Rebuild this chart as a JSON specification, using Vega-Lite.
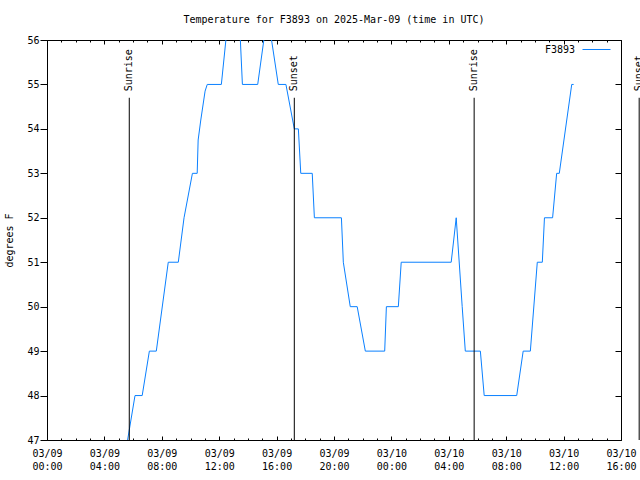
{
  "$schema": "https://vega.github.io/schema/vega-lite/v6.json",
  "width": 574,
  "height": 400,
  "autosize": {"type": "none"},
  "padding": {"left": 47, "top": 40, "right": 19, "bottom": 40},
  "background": "white",
  "title": {"text": "Temperature for F3893 on 2025-Mar-09 (time in UTC)", "font": "DejaVu Sans Mono", "fontSize": 10, "fontWeight": "normal", "color": "black", "anchor": "middle", "offset": 10},
  "config": {
    "view": {"stroke": "black", "strokeWidth": 1},
    "axis": {"domain": false, "grid": false, "tickColor": "black", "tickWidth": 1, "labelColor": "black", "labelFont": "DejaVu Sans Mono", "labelFontSize": 10, "titleFont": "DejaVu Sans Mono", "titleFontSize": 10, "titleFontWeight": "normal", "titleColor": "black"}
  },
  "datasets": {
    "temps": [
      {"time": "2025-03-09T05:37:00Z", "temp": 47.0, "series": "F3893"},
      {"time": "2025-03-09T06:08:00Z", "temp": 48, "series": "F3893"},
      {"time": "2025-03-09T06:38:00Z", "temp": 48, "series": "F3893"},
      {"time": "2025-03-09T07:08:00Z", "temp": 49, "series": "F3893"},
      {"time": "2025-03-09T07:37:00Z", "temp": 49, "series": "F3893"},
      {"time": "2025-03-09T08:27:00Z", "temp": 51, "series": "F3893"},
      {"time": "2025-03-09T09:09:00Z", "temp": 51, "series": "F3893"},
      {"time": "2025-03-09T09:33:00Z", "temp": 52, "series": "F3893"},
      {"time": "2025-03-09T10:08:00Z", "temp": 53, "series": "F3893"},
      {"time": "2025-03-09T10:28:00Z", "temp": 53, "series": "F3893"},
      {"time": "2025-03-09T10:32:00Z", "temp": 53.75, "series": "F3893"},
      {"time": "2025-03-09T10:43:00Z", "temp": 54.2, "series": "F3893"},
      {"time": "2025-03-09T11:01:00Z", "temp": 54.85, "series": "F3893"},
      {"time": "2025-03-09T11:10:00Z", "temp": 55, "series": "F3893"},
      {"time": "2025-03-09T12:09:00Z", "temp": 55, "series": "F3893"},
      {"time": "2025-03-09T12:28:00Z", "temp": 56, "series": "F3893"},
      {"time": "2025-03-09T12:49:00Z", "temp": 57, "series": "F3893"},
      {"time": "2025-03-09T13:20:00Z", "temp": 57, "series": "F3893"},
      {"time": "2025-03-09T13:37:00Z", "temp": 55, "series": "F3893"},
      {"time": "2025-03-09T14:41:00Z", "temp": 55, "series": "F3893"},
      {"time": "2025-03-09T15:22:00Z", "temp": 56.6, "series": "F3893"},
      {"time": "2025-03-09T16:07:00Z", "temp": 55, "series": "F3893"},
      {"time": "2025-03-09T16:39:00Z", "temp": 55, "series": "F3893"},
      {"time": "2025-03-09T17:14:00Z", "temp": 54, "series": "F3893"},
      {"time": "2025-03-09T17:31:00Z", "temp": 54, "series": "F3893"},
      {"time": "2025-03-09T17:41:00Z", "temp": 53, "series": "F3893"},
      {"time": "2025-03-09T18:29:00Z", "temp": 53, "series": "F3893"},
      {"time": "2025-03-09T18:38:00Z", "temp": 52, "series": "F3893"},
      {"time": "2025-03-09T20:31:00Z", "temp": 52, "series": "F3893"},
      {"time": "2025-03-09T20:39:00Z", "temp": 51, "series": "F3893"},
      {"time": "2025-03-09T21:08:00Z", "temp": 50, "series": "F3893"},
      {"time": "2025-03-09T21:37:00Z", "temp": 50, "series": "F3893"},
      {"time": "2025-03-09T22:11:00Z", "temp": 49, "series": "F3893"},
      {"time": "2025-03-09T23:32:00Z", "temp": 49, "series": "F3893"},
      {"time": "2025-03-09T23:39:00Z", "temp": 50, "series": "F3893"},
      {"time": "2025-03-10T00:29:00Z", "temp": 50, "series": "F3893"},
      {"time": "2025-03-10T00:41:00Z", "temp": 51, "series": "F3893"},
      {"time": "2025-03-10T04:10:00Z", "temp": 51, "series": "F3893"},
      {"time": "2025-03-10T04:31:00Z", "temp": 52, "series": "F3893"},
      {"time": "2025-03-10T04:56:00Z", "temp": 50, "series": "F3893"},
      {"time": "2025-03-10T05:09:00Z", "temp": 49, "series": "F3893"},
      {"time": "2025-03-10T06:12:00Z", "temp": 49, "series": "F3893"},
      {"time": "2025-03-10T06:28:00Z", "temp": 48, "series": "F3893"},
      {"time": "2025-03-10T08:44:00Z", "temp": 48, "series": "F3893"},
      {"time": "2025-03-10T09:11:00Z", "temp": 49, "series": "F3893"},
      {"time": "2025-03-10T09:41:00Z", "temp": 49, "series": "F3893"},
      {"time": "2025-03-10T10:10:00Z", "temp": 51, "series": "F3893"},
      {"time": "2025-03-10T10:31:00Z", "temp": 51, "series": "F3893"},
      {"time": "2025-03-10T10:40:00Z", "temp": 52, "series": "F3893"},
      {"time": "2025-03-10T11:14:00Z", "temp": 52, "series": "F3893"},
      {"time": "2025-03-10T11:31:00Z", "temp": 53, "series": "F3893"},
      {"time": "2025-03-10T11:42:00Z", "temp": 53, "series": "F3893"},
      {"time": "2025-03-10T12:34:00Z", "temp": 55, "series": "F3893"},
      {"time": "2025-03-10T12:42:00Z", "temp": 55, "series": "F3893"}
    ],
    "events": [
      {"time": "2025-03-09T05:44:00Z", "label": "Sunrise"},
      {"time": "2025-03-09T17:14:00Z", "label": "Sunset"},
      {"time": "2025-03-10T05:46:00Z", "label": "Sunrise"},
      {"time": "2025-03-10T17:16:00Z", "label": "Sunset"}
    ]
  },
  "layer": [
    {
      "data": {"name": "temps"},
      "mark": {"type": "line", "clip": true, "strokeWidth": 1},
      "encoding": {
        "x": {"field": "time", "type": "temporal",
          "scale": {"type": "utc", "domain": [1741478400000, 1741622400000]},
          "axis": {"orient": "bottom", "values": [1741478400000, 1741492800000, 1741507200000, 1741521600000, 1741536000000, 1741550400000, 1741564800000, 1741579200000, 1741593600000, 1741608000000, 1741622400000], "tickSize": -4, "labelPadding": 12, "labelBaseline": "top", "labelLineHeight": 13, "labelOverlap": false, "labelFlush": false, "labelExpr": "[utcFormat(datum.value, '%m/%d'), utcFormat(datum.value, '%H:%M')]", "title": null}},
        "y": {"field": "temp", "type": "quantitative",
          "scale": {"domain": [47, 56], "nice": false, "zero": false},
          "axis": {"orient": "left", "values": [47, 48, 49, 50, 51, 52, 53, 54, 55, 56], "tickSize": 7, "labelPadding": 1, "title": "degrees F", "titlePadding": 12}},
        "color": {"field": "series", "type": "nominal", "scale": {"range": ["#0a80ff"]},
          "legend": {"title": null, "orient": "none", "legendX": 535, "legendY": -5, "symbolType": "stroke", "symbolSize": 784, "symbolStrokeWidth": 1, "labelAlign": "right", "labelOffset": -36, "labelFont": "DejaVu Sans Mono", "labelFontSize": 10, "labelColor": "black", "padding": 0}}
      }
    },
    {
      "data": {"name": "events"},
      "mark": {"type": "rule", "color": "black", "strokeWidth": 1},
      "encoding": {
        "x": {"field": "time", "type": "temporal",
          "scale": {"type": "utc", "domain": [1741478400000, 1741622400000]},
          "axis": {"orient": "bottom", "values": [1741478400000, 1741482000000, 1741485600000, 1741489200000, 1741492800000, 1741496400000, 1741500000000, 1741503600000, 1741507200000, 1741510800000, 1741514400000, 1741518000000, 1741521600000, 1741525200000, 1741528800000, 1741532400000, 1741536000000, 1741539600000, 1741543200000, 1741546800000, 1741550400000, 1741554000000, 1741557600000, 1741561200000, 1741564800000, 1741568400000, 1741572000000, 1741575600000, 1741579200000, 1741582800000, 1741586400000, 1741590000000, 1741593600000, 1741597200000, 1741600800000, 1741604400000, 1741608000000, 1741611600000, 1741615200000, 1741618800000, 1741622400000], "tickSize": -2, "labels": false, "title": null}},
        "y": {"datum": 54.7, "type": "quantitative",
          "scale": {"domain": [47, 56], "nice": false, "zero": false},
          "axis": {"orient": "right", "values": [47, 48, 49, 50, 51, 52, 53, 54, 55, 56], "tickSize": -6, "labels": false, "title": null}},
        "y2": {"datum": 47}
      }
    },
    {
      "data": {"name": "events"},
      "transform": [{"filter": "datum.label == 'Sunrise'"}],
      "mark": {"type": "text", "angle": 270, "align": "left", "baseline": "middle", "font": "DejaVu Sans Mono", "fontSize": 10, "color": "black", "dx": 2},
      "encoding": {
        "x": {"field": "time", "type": "temporal",
          "scale": {"type": "utc", "domain": [1741478400000, 1741622400000]},
          "axis": {"orient": "top", "values": [1741478400000, 1741492800000, 1741507200000, 1741521600000, 1741536000000, 1741550400000, 1741564800000, 1741579200000, 1741593600000, 1741608000000, 1741622400000], "tickSize": -4, "labels": false, "title": null}},
        "y": {"datum": 54.8, "type": "quantitative", "scale": {"domain": [47, 56], "nice": false, "zero": false}, "axis": null},
        "text": {"field": "label"}
      }
    },
    {
      "data": {"name": "events"},
      "transform": [{"filter": "datum.label == 'Sunset'"}],
      "mark": {"type": "text", "angle": 270, "align": "left", "baseline": "middle", "font": "DejaVu Sans Mono", "fontSize": 10, "color": "black", "dx": 2},
      "encoding": {
        "x": {"field": "time", "type": "temporal",
          "scale": {"type": "utc", "domain": [1741478400000, 1741622400000]},
          "axis": {"orient": "top", "values": [1741478400000, 1741482000000, 1741485600000, 1741489200000, 1741492800000, 1741496400000, 1741500000000, 1741503600000, 1741507200000, 1741510800000, 1741514400000, 1741518000000, 1741521600000, 1741525200000, 1741528800000, 1741532400000, 1741536000000, 1741539600000, 1741543200000, 1741546800000, 1741550400000, 1741554000000, 1741557600000, 1741561200000, 1741564800000, 1741568400000, 1741572000000, 1741575600000, 1741579200000, 1741582800000, 1741586400000, 1741590000000, 1741593600000, 1741597200000, 1741600800000, 1741604400000, 1741608000000, 1741611600000, 1741615200000, 1741618800000, 1741622400000], "tickSize": -2, "labels": false, "title": null}},
        "y": {"datum": 54.8, "type": "quantitative", "scale": {"domain": [47, 56], "nice": false, "zero": false}, "axis": null},
        "text": {"field": "label"}
      }
    }
  ],
  "resolve": {"axis": {"x": "independent", "y": "independent"}}
}
